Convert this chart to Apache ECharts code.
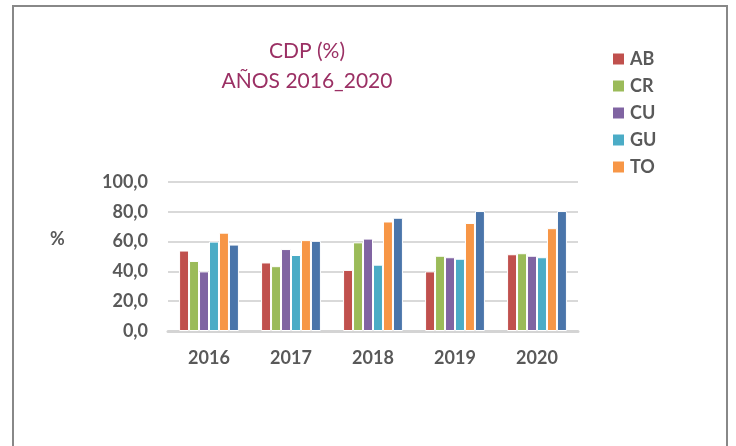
<!DOCTYPE html>
<html>
<head>
<meta charset="utf-8">
<script src="https://cdn.jsdelivr.net/npm/echarts@6/dist/echarts.min.js"></script>
<style>
  html, body { margin: 0; padding: 0; background: #fff; }
  #chart { width: 736px; height: 446px; }
</style>
</head>
<body>
<div id="chart"></div>
<script>
// data
var years = ['2016', '2017', '2018', '2019', '2020'];
var ab = [54, 46, 41, 40, 51.5];
var cr = [47, 43.5, 59.5, 50.5, 52.2];
var cu = [40, 55, 62, 49.5, 50.5];
var gu = [60, 51, 44.5, 48.5, 49.5];
var to = [66, 61, 73.5, 72.5, 69];
var sixth = [58, 60.5, 76, 80.5, 80.5]; // sin leyenda en el original
var yTicks = [0, 20, 40, 60, 80, 100];

var colors = ['#c0504d', '#9bbb59', '#8064a2', '#4bacc6', '#f79646', '#4a75aa'];
var labelColor = '#595959';

var chart = echarts.init(document.getElementById('chart'));

function bar(name, data, color) {
  return {
    name: name,
    type: 'bar',
    data: data,
    barGap: '0%',
    barCategoryGap: '27%',
    itemStyle: { color: color, borderColor: '#fff', borderWidth: 1 }
  };
}

chart.setOption({
  animation: false,
  textStyle: { fontFamily: 'Lato' },
  title: {
    text: 'CDP (%)\nAÑOS 2016_2020',
    left: 302,
    top: 31,
    textAlign: 'center',
    textStyle: {
      color: '#9b3064',
      fontSize: 21,
      fontWeight: 'normal',
      fontFamily: 'Lato',
      lineHeight: 30
    }
  },
  graphic: [
    {
      type: 'rect',
      shape: { x: 13, y: 6, width: 714, height: 460 },
      style: { fill: 'none', stroke: '#888', lineWidth: 2 }
    },
    {
      type: 'text',
      left: 50,
      top: 230,
      style: { text: '%', fill: labelColor, font: 'bold 18px Lato' }
    }
  ],
  legend: {
    orient: 'vertical',
    left: 606,
    top: 45,
    icon: 'rect',
    itemWidth: 13,
    itemHeight: 13,
    itemGap: 9,
    data: ['AB', 'CR', 'CU', 'GU', 'TO'],
    textStyle: { color: labelColor, fontSize: 18, fontWeight: 'bold', fontFamily: 'Lato' }
  },
  grid: { left: 168, right: 158, top: 182, bottom: 115 },
  xAxis: {
    type: 'category',
    data: years,
    axisTick: { show: false },
    axisLine: { lineStyle: { color: '#d4d4d4', width: 3 } },
    axisLabel: { color: labelColor, fontSize: 18, fontWeight: 'bold', margin: 18, fontFamily: 'Lato' }
  },
  yAxis: {
    type: 'value',
    min: yTicks[0],
    max: yTicks[yTicks.length - 1],
    interval: 20,
    axisLine: { show: false },
    axisTick: { show: false },
    splitLine: { lineStyle: { color: '#d9d9d9', width: 2 } },
    axisLabel: {
      color: labelColor,
      fontSize: 18,
      fontWeight: 'bold',
      margin: 20,
      fontFamily: 'Lato',
      formatter: function (v) { return v.toFixed(1).replace('.', ','); }
    }
  },
  series: [
    bar('AB', ab, colors[0]),
    bar('CR', cr, colors[1]),
    bar('CU', cu, colors[2]),
    bar('GU', gu, colors[3]),
    bar('TO', to, colors[4]),
    bar('', sixth, colors[5])
  ]
});
</script>
</body>
</html>
